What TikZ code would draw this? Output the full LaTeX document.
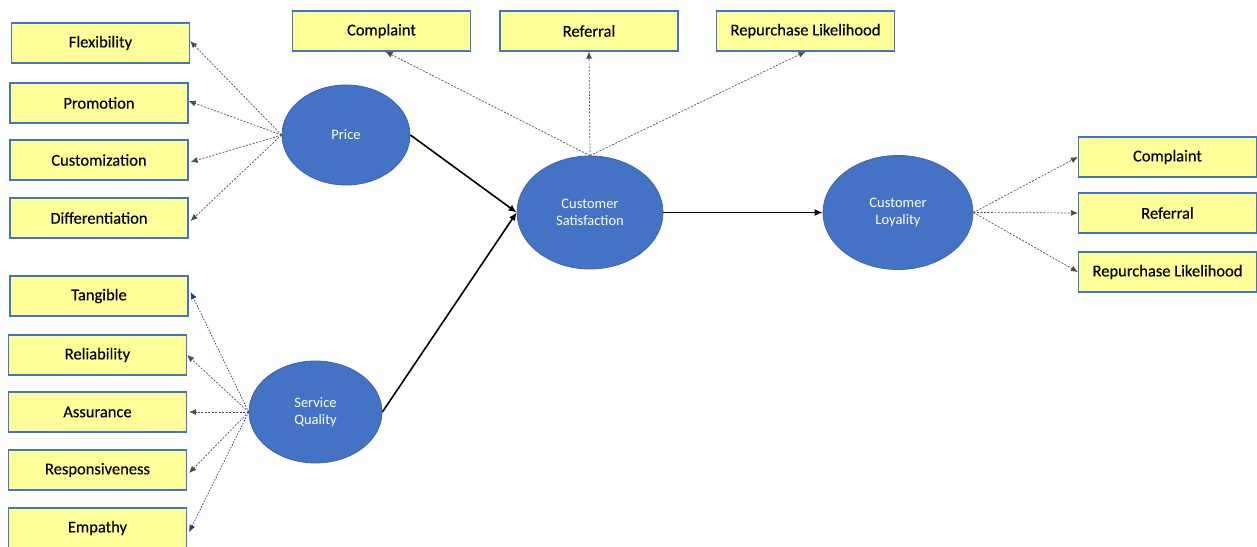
\documentclass[tikz,border=0pt]{standalone}
\usepackage{fontspec}
\setmainfont{Carlito}
\newfontfamily\boxfont[FakeBold=0.3]{Carlito}
\usetikzlibrary{shapes.geometric,arrows.meta}
\definecolor{boxfill}{HTML}{FFFF99}
\definecolor{boxline}{HTML}{4472C4}
\definecolor{ellfill}{HTML}{4472C4}
\definecolor{ellline}{HTML}{3A64AE}
\definecolor{navy}{HTML}{1F3A7A}
\begin{document}
\begin{tikzpicture}[x=1pt,y=-1pt,
  ind/.style={draw=boxline,fill=boxfill,line width=1.2pt,minimum width=178pt,minimum height=40pt,inner sep=0pt,font=\boxfont\fontsize{16.5}{18}\selectfont},
  lat/.style={ellipse,draw=ellline,fill=ellfill,line width=0.8pt,inner sep=0pt,text=white,align=center,font=\fontsize{14.5}{17}\selectfont},
  dasharrow/.style={draw=black!70,line width=0.7pt,dash pattern=on 2pt off 1.5pt,-{Latex[length=7pt,width=6pt]}},
  navyarrow/.style={draw=navy,line width=0.7pt,dash pattern=on 1.5pt off 1.5pt,-{Latex[length=7pt,width=6pt]},navy},
  solidarrow/.style={draw=black,line width=1.6pt,-{Latex[length=8pt,width=7pt]}}]
\useasboundingbox (0,0) rectangle (1257,546);
\clip (0,0) rectangle (1257,546);
% boxes
\node[ind] (flex) at (100.5,43) {Flexibility};
\node[ind] (prom) at (99,103) {Promotion};
\node[ind] (cust) at (99,160) {Customization};
\node[ind] (diff) at (99,218) {Differentiation};
\node[ind] (tang) at (99,296) {Tangible};
\node[ind] (reli) at (97.5,355) {Reliability};
\node[ind] (assu) at (97.5,412) {Assurance};
\node[ind] (resp) at (97.5,470) {Responsiveness};
\node[ind] (empa) at (97.5,528) {Empathy};
\node[ind] (tcomp) at (381.5,31) {Complaint};
\node[ind] (tref) at (589,31) {Referral};
\node[ind] (trep) at (805.5,31) {Repurchase Likelihood};
\node[ind] (rcomp) at (1167.5,157) {Complaint};
\node[ind] (rref) at (1167.5,213) {Referral};
\node[ind] (rrep) at (1167.5,272) {Repurchase Likelihood};
% latent
\node[lat,minimum width=128pt,minimum height=100pt] (price) at (346,135) {Price};
\node[lat,minimum width=133pt,minimum height=102pt] (sq) at (315.5,412) {Service\\Quality};
\node[lat,minimum width=146pt,minimum height=113pt] (cs) at (590,212.5) {Customer\\Satisfaction};
\node[lat,minimum width=150pt,minimum height=114pt] (cl) at (898,212.5) {Customer\\Loyality};
% dashed indicators
\draw[dasharrow] (price.west) -- ([yshift=2pt]flex.east);
\draw[dasharrow] (price.west) -- ([yshift=2pt]prom.east);
\draw[dasharrow] (price.west) -- ([yshift=-2pt,xshift=2pt]cust.east);
\draw[dasharrow] (price.west) -- ([yshift=-3pt,xshift=2pt]diff.east);
\draw[navyarrow] (sq.west) -- ([yshift=4pt,xshift=2pt]tang.east);
\draw[dasharrow] (sq.west) -- (reli.east);
\draw[dasharrow] (sq.west) -- ([xshift=2pt]assu.east);
\draw[dasharrow] (sq.west) -- ([yshift=-3pt,xshift=2pt]resp.east);
\draw[navyarrow] (sq.west) -- ([yshift=-4pt,xshift=2pt]empa.east);
\draw[dasharrow] (cs.north) -- ([xshift=4pt]tcomp.south);
\draw[dasharrow] (cs.north) -- (tref.south);
\draw[dasharrow] (cs.north) -- (trep.south);
\draw[dasharrow] (cl.east) -- (rcomp.west);
\draw[dasharrow] (cl.east) -- (rref.west);
\draw[dasharrow] (cl.east) -- (rrep.west);
% structural
\draw[solidarrow] (price.east) -- (cs.west);
\draw[solidarrow] (sq.east) -- (cs.west);
\draw[solidarrow] (cs.east) -- (cl.west);
\end{tikzpicture}
\end{document}
